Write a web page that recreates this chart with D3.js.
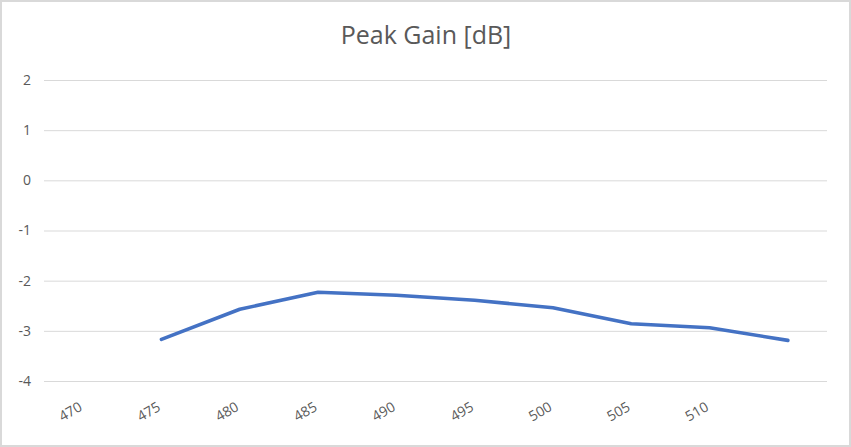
<!DOCTYPE html>
<html>
<head>
<meta charset="utf-8">
<script src="https://cdn.jsdelivr.net/npm/d3@7"></script>
<style>
  body { margin: 0; background: #fff; }
  svg { display: block; font-family: "Open Sans", sans-serif; }
</style>
</head>
<body>
<div id="chart"></div>
<script>
// categories on the x axis (last slot has no label in the original)
const categories = ["470", "475", "480", "485", "490", "495", "500", "505", "510", ""];
// peak gain in dB, null where there is no point
const gainValues = [null, -3.17, -2.57, -2.23, -2.29, -2.39, -2.54, -2.86, -2.94, -3.19];
const yTicks = [-4, -3, -2, -1, 0, 1, 2];

const w = 851, h = 447;
const pLeft = 44, pRight = 827, pTop = 80, pBottom = 381;

const svg = d3.select('#chart').append('svg')
  .attr('width', w)
  .attr('height', h);

// outer border of the chart area
svg.append('rect')
  .attr('x', 1).attr('y', 1)
  .attr('width', w - 2).attr('height', h - 2)
  .attr('fill', '#fff')
  .attr('stroke', '#d9d9d9')
  .attr('stroke-width', 2);

svg.append('text')
  .text('Peak Gain [dB]')
  .attr('x', 426)
  .attr('y', 44)
  .attr('text-anchor', 'middle')
  .style('font-size', '25px')
  .style('fill', '#595959');

const xScale = d3.scaleBand()
  .domain(d3.range(categories.length))
  .range([pLeft, pRight]);

const yScale = d3.scaleLinear()
  .domain([-4, 2])
  .range([pBottom, pTop]);

// gridlines + y labels (plain hyphen for negatives, like the original)
const yA = d3.axisLeft(yScale)
  .tickValues(yTicks)
  .tickSize(-(pRight - pLeft))
  .tickPadding(13)
  .tickFormat((d) => String(d));

const gy = svg.append('g')
  .attr('transform', 'translate(' + pLeft + ',0)')
  .call(yA);
gy.select('.domain').remove();
gy.selectAll('line').attr('stroke', '#d9d9d9').attr('stroke-width', 1);
gy.selectAll('text')
  .style('font-size', '14px')
  .style('fill', '#595959');
gy.attr('font-family', null);

// x labels, rotated like the original
svg.append('g').selectAll('text')
  .data(categories)
  .enter()
  .append('text')
  .text((d) => d)
  .attr('text-anchor', 'end')
  .attr('transform', (d, i) => 'translate(' + (xScale(i) + xScale.bandwidth() / 2 - 5) + ',' + (pBottom + 20) + ') rotate(-30)')
  .attr('dy', '0.72em')
  .style('font-size', '14px')
  .style('fill', '#595959');

const line = d3.line()
  .defined((d) => d != null)
  .x((d, i) => xScale(i) + xScale.bandwidth() / 2)
  .y((d) => yScale(d));

svg.append('path')
  .datum(gainValues)
  .attr('d', line)
  .attr('fill', 'none')
  .attr('stroke', '#4472c4')
  .attr('stroke-width', 3.6)
  .attr('stroke-linecap', 'round')
  .attr('stroke-linejoin', 'round');
</script>
</body>
</html>
